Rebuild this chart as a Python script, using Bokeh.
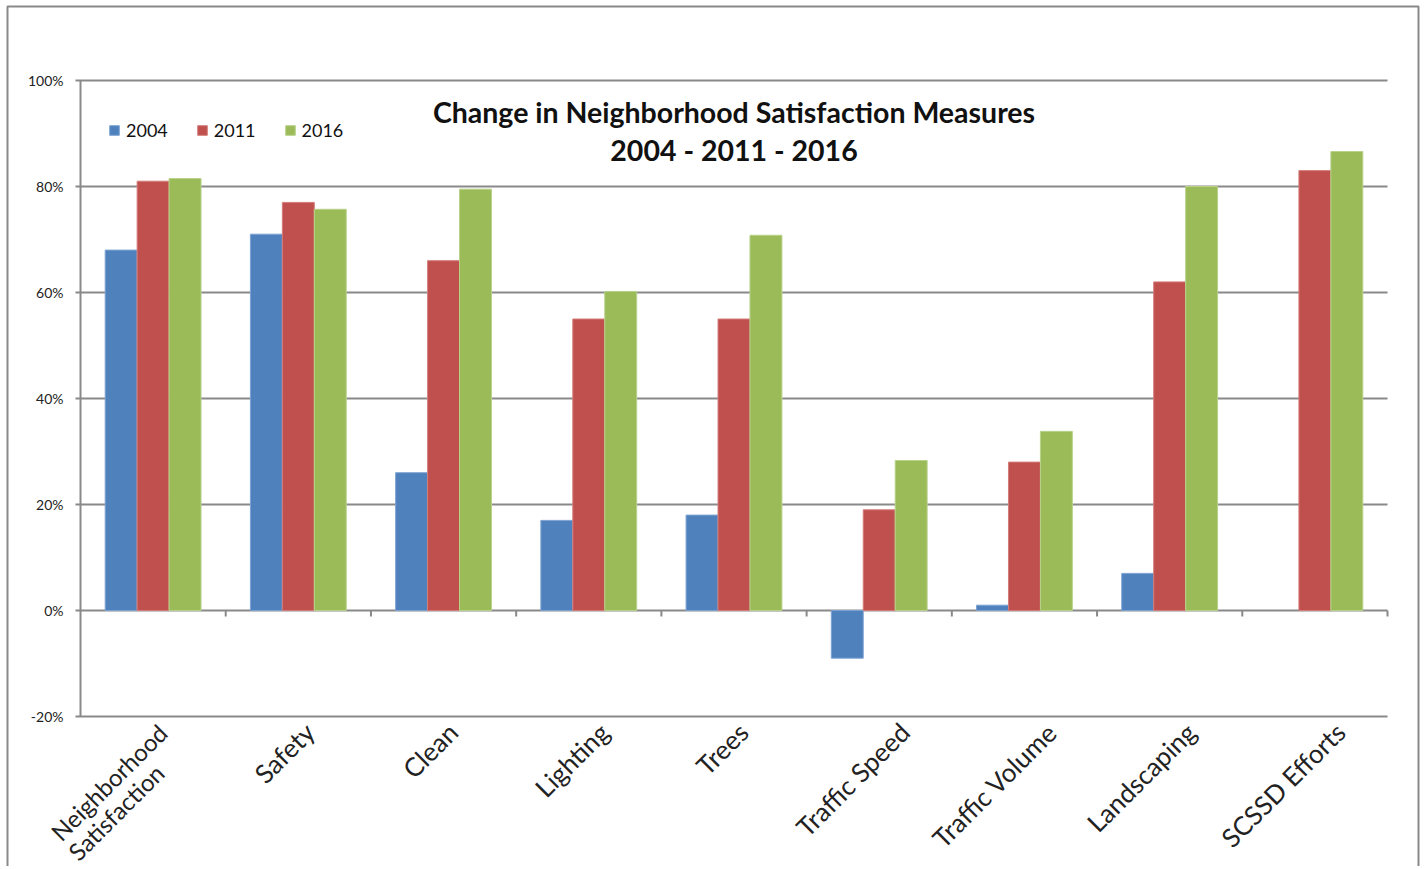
import math
from bokeh.plotting import figure
from bokeh.models import ColumnDataSource, Legend, LegendItem, Label, Range1d
from bokeh.core.properties import value
from bokeh.transform import dodge
from bokeh.embed import file_html
from bokeh.resources import INLINE

categories = ["Neighborhood\nSatisfaction", "Safety", "Clean", "Lighting", "Trees",
              "Traffic Speed", "Traffic Volume", "Landscaping", "SCSSD Efforts"]
years = ["2004", "2011", "2016"]
v2004 = [0.68, 0.71, 0.26, 0.17, 0.18, -0.09, 0.01, 0.07, float("nan")]
v2011 = [0.81, 0.77, 0.66, 0.55, 0.55, 0.19, 0.28, 0.62, 0.83]
v2016 = [0.815, 0.757, 0.795, 0.602, 0.708, 0.283, 0.338, 0.80, 0.866]
y_ticks = [-0.2, 0.0, 0.2, 0.4, 0.6, 0.8, 1.0]
y_tick_labels = ["-20%", "0%", "20%", "40%", "60%", "80%", "100%"]
title_lines = ["Change in Neighborhood Satisfaction Measures", "2004 - 2011 - 2016"]

colors = ["#4F81BD", "#C0504D", "#9BBB59"]
edges = ["#7da3d2", "#d47d7b", "#b8d28a"]
GRAY = "#898989"
FONT = "Lato"
LABEL_PX = 26
LABEL_PX_2LINE = 24

# pixel layout of the plotting area inside the canvas
W, H = 1422, 866
PX_L, PX_R, PX_T, PX_B = 80, 1387, 80, 716
n = len(categories)
y_lo, y_hi = y_ticks[0], y_ticks[-1]
sx = (PX_R - PX_L) / n
sy = (PX_B - PX_T) / (y_hi - y_lo)

def px_x(px):
    return (px - PX_L) / sx

def px_y(py):
    return y_hi - (py - PX_T) / sy

p = figure(width=W, height=H, output_backend="svg", toolbar_location=None, title=None,
           x_range=Range1d(px_x(0), px_x(W)), y_range=Range1d(px_y(H), px_y(0)),
           min_border=0)
p.xaxis.visible = False
p.yaxis.visible = False
p.grid.visible = False
p.outline_line_color = None
p.background_fill_color = "white"
p.border_fill_color = "white"

# outer chart border
p.quad(left=[px_x(7)], right=[px_x(1418)], top=[px_y(6)], bottom=[px_y(H + 30)],
       fill_color=None, line_color=GRAY, line_width=2)

# horizontal gridlines with outer ticks
tick_len = 5 / sx
p.segment(x0=[-tick_len] * len(y_ticks), x1=[n] * len(y_ticks), y0=y_ticks, y1=y_ticks,
          line_color=GRAY, line_width=2)
# y axis line
p.segment(x0=[0], x1=[0], y0=[y_lo], y1=[y_hi], line_color=GRAY, line_width=2)
# y tick labels
p.text(x=[0] * len(y_ticks), y=y_ticks, text=y_tick_labels, x_offset=-17,
       text_align="right", text_baseline="middle", text_font=value(FONT),
       text_font_size="14px", text_color="#222222")

# bars
centers = [i + 0.5 for i in range(n)]
src = ColumnDataSource(dict(x=centers, v2004=v2004, v2011=v2011, v2016=v2016))
bw = 0.22
renderers = []
for k, (col, c, e) in enumerate(zip(["v2004", "v2011", "v2016"], colors, edges)):
    r = p.vbar(x=dodge("x", (k - 1) * bw), top=col, bottom=0, width=bw, source=src,
               fill_color=c, line_color=e, line_width=1)
    renderers.append(r)

# category boundary ticks on the 0% line
bx = [i + 1 for i in range(n)]
p.segment(x0=bx, x1=bx, y0=[0] * n, y1=[-6 / sy] * n, line_color=GRAY, line_width=2)

# rotated category labels below the plot area
def add_cat_label(text, xc, dx, dy, size):
    p.add_layout(Label(x=xc, y=y_lo, x_offset=dx, y_offset=dy, text=text,
                       angle=math.pi / 4, text_align="right", text_baseline="middle",
                       text_font=FONT, text_font_size=f"{size}px",
                       text_color="#222222"))

for xc, lab in zip(centers, categories):
    lines = lab.split("\n")
    est_len = len(lines[0]) * 0.44 * LABEL_PX
    dx = (est_len + 0.9 * LABEL_PX) * 0.177 - 5
    if len(lines) > 1:
        dx -= 14
        add_cat_label(lines[0], xc, dx, -12, LABEL_PX_2LINE)
        add_cat_label(lines[1], xc, dx - 3, -12 - 40, LABEL_PX_2LINE)
    else:
        add_cat_label(lines[0], xc, dx, -11, LABEL_PX)

# title inside plot
for txt, yy in zip(title_lines, [px_y(111), px_y(149)]):
    p.add_layout(Label(x=n / 2, y=yy, text=txt, text_align="center", text_baseline="middle",
                       text_font=FONT, text_font_size="28.5px", text_font_style="bold",
                       text_color="#111111"))

legend = Legend(items=[LegendItem(label=y, renderers=[r]) for y, r in zip(years, renderers)],
                orientation="horizontal", location=(108, H - 141), padding=0, margin=0,
                spacing=28, glyph_width=12, glyph_height=12, label_standoff=6,
                label_text_font=FONT, label_text_font_size="18px", label_text_color="#111111",
                border_line_color=None, background_fill_alpha=0)
p.add_layout(legend, "center")

open("out.html", "w").write(file_html(p, INLINE))
